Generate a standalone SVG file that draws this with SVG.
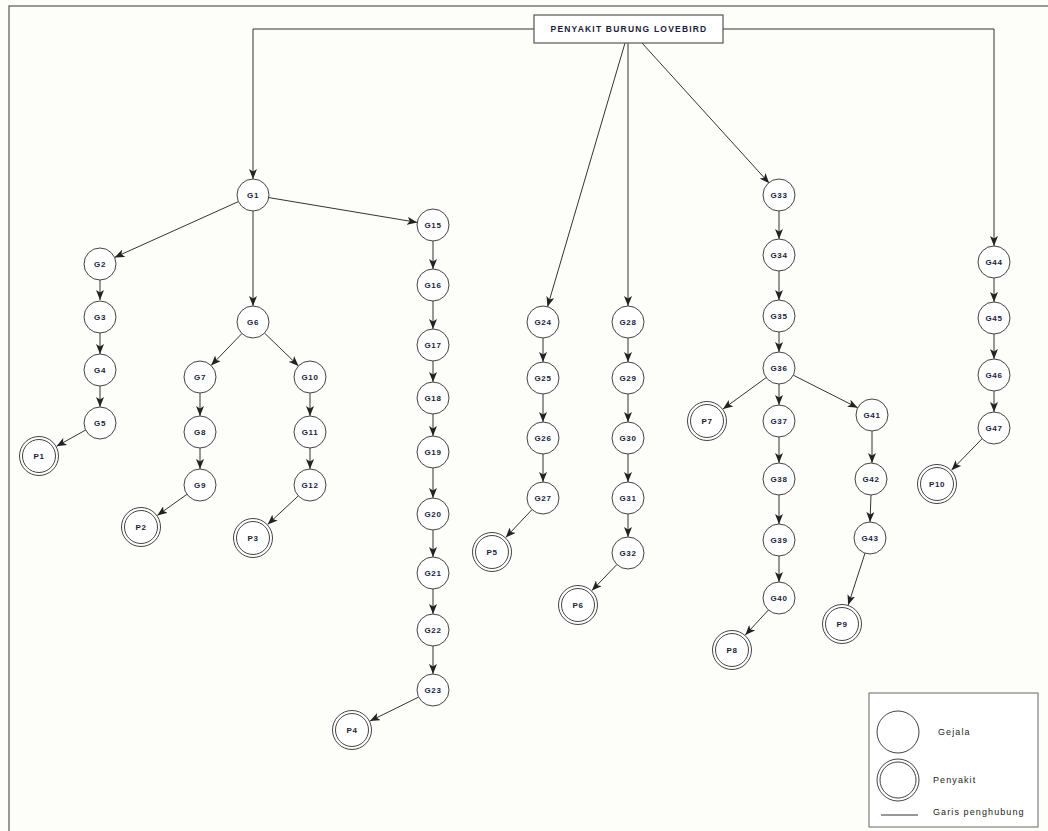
<svg xmlns="http://www.w3.org/2000/svg" width="1048" height="831" viewBox="0 0 1048 831">
<defs>
<marker id="arr" viewBox="0 0 10 8" refX="10" refY="4" markerWidth="10" markerHeight="8" markerUnits="userSpaceOnUse" orient="auto">
<path d="M0,0 L10,4 L0,8 L2.5,4 z" fill="#222"/>
</marker>
<style>
.n{fill:#fff;stroke:#444;stroke-width:1}
.t{font-family:"Liberation Sans",Arial,sans-serif;font-size:8px;font-weight:bold;fill:#1c1c3c;text-anchor:middle;dominant-baseline:central;letter-spacing:0.6px}
.rt{font-family:"Liberation Sans",Arial,sans-serif;font-size:8.5px;font-weight:bold;fill:#1c1c3c;text-anchor:middle;dominant-baseline:central;letter-spacing:1.2px}
.e{stroke:#333;stroke-width:1;fill:none;marker-end:url(#arr)}
.lt{font-family:"Liberation Sans",Arial,sans-serif;font-size:9px;fill:#222;dominant-baseline:central;letter-spacing:1.1px}
</style>
</defs>
<rect width="1048" height="831" fill="#fdfdf9"/>
<path d="M9,831 V6 H1048" fill="none" stroke="#777" stroke-width="1.5"/>

<g id="connectors">
<path class="e" d="M534,29 H253 V179"/>
<path class="e" d="M723,29 H994 V246"/>
<line class="e" x1="625" y1="43" x2="547.5" y2="306.7"/>
<line class="e" x1="628" y1="43" x2="628" y2="306"/>
<line class="e" x1="642" y1="43" x2="769.2" y2="183.2"/>
<line class="e" x1="238.4" y1="201.6" x2="114.6" y2="257.4"/>
<line class="e" x1="253" y1="211" x2="253" y2="306"/>
<line class="e" x1="268.8" y1="197.6" x2="417.2" y2="222.4"/>
<line class="e" x1="100" y1="280" x2="100" y2="300"/>
<line class="e" x1="100" y1="333" x2="100" y2="354"/>
<line class="e" x1="100" y1="386" x2="100" y2="407"/>
<line class="e" x1="86" y1="429.8" x2="56.5" y2="446.3"/>
<line class="e" x1="241.9" y1="333.5" x2="211.1" y2="365.5"/>
<line class="e" x1="264.5" y1="333.1" x2="298.5" y2="365.9"/>
<line class="e" x1="200" y1="393" x2="200" y2="416"/>
<line class="e" x1="200" y1="448" x2="200" y2="469"/>
<line class="e" x1="187" y1="494.3" x2="157.3" y2="515.4"/>
<line class="e" x1="310" y1="393" x2="310" y2="416"/>
<line class="e" x1="310" y1="448" x2="310" y2="469"/>
<line class="e" x1="298.3" y1="495.9" x2="267.7" y2="524.4"/>
<line class="e" x1="433" y1="241" x2="433" y2="269"/>
<line class="e" x1="433" y1="301" x2="433" y2="329"/>
<line class="e" x1="433" y1="361" x2="433" y2="382"/>
<line class="e" x1="433" y1="414" x2="433" y2="436"/>
<line class="e" x1="433" y1="468" x2="433" y2="498"/>
<line class="e" x1="433" y1="530" x2="433" y2="557"/>
<line class="e" x1="433" y1="589" x2="433" y2="614"/>
<line class="e" x1="433" y1="646" x2="433" y2="674"/>
<line class="e" x1="418.6" y1="697.1" x2="369.9" y2="721.1"/>
<line class="e" x1="543" y1="338" x2="543" y2="362"/>
<line class="e" x1="543" y1="394" x2="543" y2="422"/>
<line class="e" x1="543" y1="454" x2="543" y2="482"/>
<line class="e" x1="532" y1="509.6" x2="505.7" y2="537.5"/>
<line class="e" x1="628" y1="338" x2="628" y2="362"/>
<line class="e" x1="628" y1="394" x2="628" y2="422"/>
<line class="e" x1="628" y1="454" x2="628" y2="482"/>
<line class="e" x1="628" y1="514" x2="628" y2="537"/>
<line class="e" x1="616.9" y1="564.5" x2="591.9" y2="590.6"/>
<line class="e" x1="779" y1="211" x2="779" y2="239"/>
<line class="e" x1="779" y1="271" x2="779" y2="300"/>
<line class="e" x1="779" y1="332" x2="779" y2="352"/>
<line class="e" x1="766.2" y1="377.6" x2="723" y2="409"/>
<line class="e" x1="779" y1="384" x2="779" y2="405"/>
<line class="e" x1="793.3" y1="375.2" x2="857.7" y2="407.8"/>
<line class="e" x1="779" y1="437" x2="779" y2="463"/>
<line class="e" x1="779" y1="495" x2="779" y2="524"/>
<line class="e" x1="779" y1="556" x2="779" y2="582"/>
<line class="e" x1="768.4" y1="610" x2="745.3" y2="635"/>
<line class="e" x1="872" y1="431" x2="872" y2="463"/>
<line class="e" x1="871" y1="495" x2="870" y2="522"/>
<line class="e" x1="865" y1="553.2" x2="848.2" y2="605"/>
<line class="e" x1="994" y1="278" x2="994" y2="302"/>
<line class="e" x1="994" y1="334" x2="994" y2="359"/>
<line class="e" x1="994" y1="391" x2="994" y2="412"/>
<line class="e" x1="982.1" y1="438.7" x2="951.5" y2="470.2"/>
</g>

<g id="root"><rect x="534" y="15" width="189" height="28" fill="#fff" stroke="#555" stroke-width="1.2"/><text class="rt" x="629" y="29">PENYAKIT BURUNG LOVEBIRD</text></g>

<g id="G1"><circle class="n" cx="253" cy="195" r="16"/><text class="t" x="253" y="195">G1</text></g>
<g id="G2"><circle class="n" cx="100" cy="264" r="16"/><text class="t" x="100" y="264">G2</text></g>
<g id="G3"><circle class="n" cx="100" cy="317" r="16"/><text class="t" x="100" y="317">G3</text></g>
<g id="G4"><circle class="n" cx="100" cy="370" r="16"/><text class="t" x="100" y="370">G4</text></g>
<g id="G5"><circle class="n" cx="100" cy="423" r="16"/><text class="t" x="100" y="423">G5</text></g>
<g id="G6"><circle class="n" cx="253" cy="322" r="16"/><text class="t" x="253" y="322">G6</text></g>
<g id="G7"><circle class="n" cx="200" cy="377" r="16"/><text class="t" x="200" y="377">G7</text></g>
<g id="G8"><circle class="n" cx="200" cy="432" r="16"/><text class="t" x="200" y="432">G8</text></g>
<g id="G9"><circle class="n" cx="200" cy="485" r="16"/><text class="t" x="200" y="485">G9</text></g>
<g id="G10"><circle class="n" cx="310" cy="377" r="16"/><text class="t" x="310" y="377">G10</text></g>
<g id="G11"><circle class="n" cx="310" cy="432" r="16"/><text class="t" x="310" y="432">G11</text></g>
<g id="G12"><circle class="n" cx="310" cy="485" r="16"/><text class="t" x="310" y="485">G12</text></g>
<g id="G15"><circle class="n" cx="433" cy="225" r="16"/><text class="t" x="433" y="225">G15</text></g>
<g id="G16"><circle class="n" cx="433" cy="285" r="16"/><text class="t" x="433" y="285">G16</text></g>
<g id="G17"><circle class="n" cx="433" cy="345" r="16"/><text class="t" x="433" y="345">G17</text></g>
<g id="G18"><circle class="n" cx="433" cy="398" r="16"/><text class="t" x="433" y="398">G18</text></g>
<g id="G19"><circle class="n" cx="433" cy="452" r="16"/><text class="t" x="433" y="452">G19</text></g>
<g id="G20"><circle class="n" cx="433" cy="514" r="16"/><text class="t" x="433" y="514">G20</text></g>
<g id="G21"><circle class="n" cx="433" cy="573" r="16"/><text class="t" x="433" y="573">G21</text></g>
<g id="G22"><circle class="n" cx="433" cy="630" r="16"/><text class="t" x="433" y="630">G22</text></g>
<g id="G23"><circle class="n" cx="433" cy="690" r="16"/><text class="t" x="433" y="690">G23</text></g>
<g id="G24"><circle class="n" cx="543" cy="322" r="16"/><text class="t" x="543" y="322">G24</text></g>
<g id="G25"><circle class="n" cx="543" cy="378" r="16"/><text class="t" x="543" y="378">G25</text></g>
<g id="G26"><circle class="n" cx="543" cy="438" r="16"/><text class="t" x="543" y="438">G26</text></g>
<g id="G27"><circle class="n" cx="543" cy="498" r="16"/><text class="t" x="543" y="498">G27</text></g>
<g id="G28"><circle class="n" cx="628" cy="322" r="16"/><text class="t" x="628" y="322">G28</text></g>
<g id="G29"><circle class="n" cx="628" cy="378" r="16"/><text class="t" x="628" y="378">G29</text></g>
<g id="G30"><circle class="n" cx="628" cy="438" r="16"/><text class="t" x="628" y="438">G30</text></g>
<g id="G31"><circle class="n" cx="628" cy="498" r="16"/><text class="t" x="628" y="498">G31</text></g>
<g id="G32"><circle class="n" cx="628" cy="553" r="16"/><text class="t" x="628" y="553">G32</text></g>
<g id="G33"><circle class="n" cx="779" cy="195" r="16"/><text class="t" x="779" y="195">G33</text></g>
<g id="G34"><circle class="n" cx="779" cy="255" r="16"/><text class="t" x="779" y="255">G34</text></g>
<g id="G35"><circle class="n" cx="779" cy="316" r="16"/><text class="t" x="779" y="316">G35</text></g>
<g id="G36"><circle class="n" cx="779" cy="368" r="16"/><text class="t" x="779" y="368">G36</text></g>
<g id="G37"><circle class="n" cx="779" cy="421" r="16"/><text class="t" x="779" y="421">G37</text></g>
<g id="G38"><circle class="n" cx="779" cy="479" r="16"/><text class="t" x="779" y="479">G38</text></g>
<g id="G39"><circle class="n" cx="779" cy="540" r="16"/><text class="t" x="779" y="540">G39</text></g>
<g id="G40"><circle class="n" cx="779" cy="598" r="16"/><text class="t" x="779" y="598">G40</text></g>
<g id="G41"><circle class="n" cx="872" cy="415" r="16"/><text class="t" x="872" y="415">G41</text></g>
<g id="G42"><circle class="n" cx="871" cy="479" r="16"/><text class="t" x="871" y="479">G42</text></g>
<g id="G43"><circle class="n" cx="870" cy="538" r="16"/><text class="t" x="870" y="538">G43</text></g>
<g id="G44"><circle class="n" cx="994" cy="262" r="16"/><text class="t" x="994" y="262">G44</text></g>
<g id="G45"><circle class="n" cx="994" cy="318" r="16"/><text class="t" x="994" y="318">G45</text></g>
<g id="G46"><circle class="n" cx="994" cy="375" r="16"/><text class="t" x="994" y="375">G46</text></g>
<g id="G47"><circle class="n" cx="994" cy="428" r="16"/><text class="t" x="994" y="428">G47</text></g>

<g id="P1"><circle class="n" cx="39" cy="456" r="19.5"/><circle class="n" cx="39" cy="456" r="16.5"/><text class="t" x="39" y="456">P1</text></g>
<g id="P2"><circle class="n" cx="141" cy="527" r="19.5"/><circle class="n" cx="141" cy="527" r="16.5"/><text class="t" x="141" y="527">P2</text></g>
<g id="P3"><circle class="n" cx="253" cy="538" r="19.5"/><circle class="n" cx="253" cy="538" r="16.5"/><text class="t" x="253" y="538">P3</text></g>
<g id="P4"><circle class="n" cx="352" cy="730" r="19.5"/><circle class="n" cx="352" cy="730" r="16.5"/><text class="t" x="352" y="730">P4</text></g>
<g id="P5"><circle class="n" cx="492" cy="552" r="19.5"/><circle class="n" cx="492" cy="552" r="16.5"/><text class="t" x="492" y="552">P5</text></g>
<g id="P6"><circle class="n" cx="578" cy="605" r="19.5"/><circle class="n" cx="578" cy="605" r="16.5"/><text class="t" x="578" y="605">P6</text></g>
<g id="P7"><circle class="n" cx="707" cy="421" r="19.5"/><circle class="n" cx="707" cy="421" r="16.5"/><text class="t" x="707" y="421">P7</text></g>
<g id="P8"><circle class="n" cx="732" cy="650" r="19.5"/><circle class="n" cx="732" cy="650" r="16.5"/><text class="t" x="732" y="650">P8</text></g>
<g id="P9"><circle class="n" cx="842" cy="624" r="19.5"/><circle class="n" cx="842" cy="624" r="16.5"/><text class="t" x="842" y="624">P9</text></g>
<g id="P10"><circle class="n" cx="937" cy="484" r="19.5"/><circle class="n" cx="937" cy="484" r="16.5"/><text class="t" x="937" y="484">P10</text></g>

<g id="legend">
<rect x="869" y="693" width="169" height="134" fill="#fff" stroke="#666" stroke-width="1"/>
<circle class="n" cx="898" cy="732" r="21"/>
<text class="lt" x="938" y="732">Gejala</text>
<circle class="n" cx="898" cy="780" r="21"/>
<circle class="n" cx="898" cy="780" r="18"/>
<text class="lt" x="933" y="780">Penyakit</text>
<line x1="881" y1="815" x2="918" y2="815" stroke="#333" stroke-width="1"/>
<text class="lt" x="933" y="812">Garis penghubung</text>
</g>
</svg>
